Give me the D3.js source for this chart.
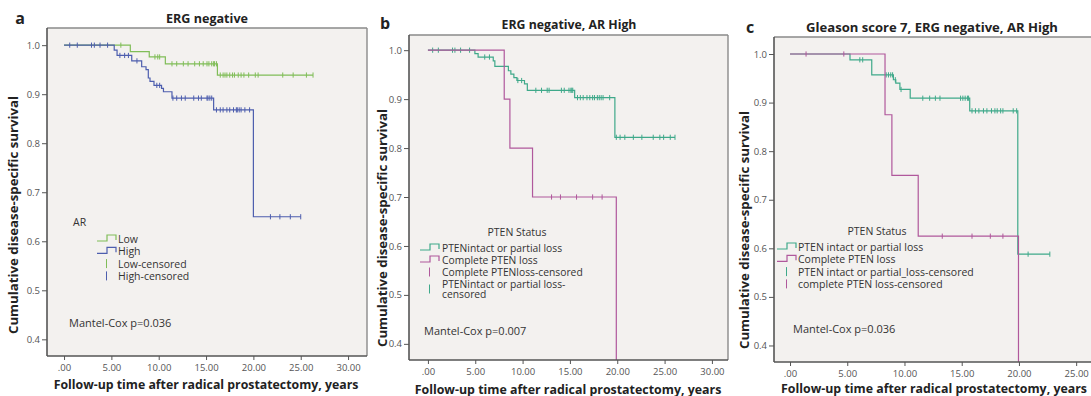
<!DOCTYPE html>
<html><head><meta charset="utf-8">
<script src="https://cdn.jsdelivr.net/npm/d3@7"></script>
<style>
body{margin:0;background:#fff;}
svg{display:block;}
text{font-family:"Open Sans","Noto Sans",sans-serif;}
</style>
</head><body>
<svg id="chart" width="1091" height="396"></svg>
<script>
// ---------- shared tick labels ----------
const xTicks = [0, 5, 10, 15, 20, 25, 30];
const xTickLabels = [".00", "5.00", "10.00", "15.00", "20.00", "25.00", "30.00"];
const yTicks = [0.4, 0.5, 0.6, 0.7, 0.8, 0.9, 1.0];
const yTickLabels = ["0.4", "0.5", "0.6", "0.7", "0.8", "0.9", "1.0"];

// ---------- panel a: ERG negative, by AR ----------
const aLowTimes = [0, 7.0, 9.0, 10.7, 16.2, 26.3];
const aLowSurv  = [1.0, 0.987, 0.976, 0.962, 0.939, 0.939];
const aLowCensored = [6.0, 9.6, 9.9, 10.1, 11.4, 11.9, 12.6, 13.1, 13.8, 14.3, 14.7, 15.1, 15.3, 15.6, 15.8, 15.9, 16.1,
  16.5, 16.8, 17.0, 17.2, 17.5, 17.8, 18.0, 18.4, 18.7, 19.0, 19.5, 20.2, 20.5, 23.1, 24.2, 25.6, 26.3];
const aHighTimes = [0, 5.3, 5.6, 7.15, 8.2, 8.66, 8.9, 9.08, 9.5, 10.3, 10.5, 11.4, 15.8, 20.0, 25.0];
const aHighSurv  = [1.0, 0.990, 0.979, 0.968, 0.956, 0.950, 0.933, 0.926, 0.918, 0.912, 0.905, 0.892, 0.868, 0.650, 0.650];
const aHighCensored = [0.6, 1.4, 2.9, 3.2, 3.8, 4.6, 5.9, 6.4, 6.8, 7.7, 9.8, 10.1, 11.5, 11.9, 12.4, 12.8, 13.7, 14.2,
  14.5, 15.1, 15.2, 15.4, 15.6, 16.1, 16.5, 16.8, 17.2, 17.5, 17.9, 18.2, 18.3, 18.5, 18.7, 19.1, 19.6, 21.8, 22.8, 23.9, 25.0];

// ---------- panel b: ERG negative, AR High, by PTEN ----------
const bIntactTimes = [0, 4.96, 5.3, 6.9, 7.07, 8.5, 8.76, 9.08, 9.4, 10.2, 10.5, 15.5, 19.75, 26.1];
const bIntactSurv  = [1.0, 0.993, 0.986, 0.978, 0.967, 0.958, 0.951, 0.944, 0.938, 0.931, 0.918, 0.903, 0.822, 0.822];
const bIntactCensored = [0.5, 1.1, 2.6, 2.85, 3.45, 4.4, 6.0, 6.5, 9.5, 9.9, 11.4, 12.0, 12.6, 12.8, 14.1, 14.4, 14.9, 15.1,
  15.2, 15.3, 15.8, 16.1, 16.4, 16.8, 17.1, 17.4, 17.6, 17.9, 18.1, 18.3, 18.5, 19.2, 19.9, 20.3, 20.8, 21.7, 22.6, 23.8,
  24.5, 24.9, 25.6, 26.1];
const bLossTimes = [0, 8.06, 8.66, 11.05, 19.9];
const bLossSurv  = [1.0, 0.9, 0.8, 0.7, 0.0];
const bLossCensored = [13.06, 14.0, 15.7, 17.4, 18.4];

// ---------- panel c: Gleason 7, ERG negative, AR High, by PTEN ----------
const cIntactTimes = [0, 5.24, 7.14, 9.03, 9.24, 9.6, 10.5, 15.7, 19.9, 22.7];
const cIntactSurv  = [1.0, 0.988, 0.957, 0.947, 0.940, 0.927, 0.909, 0.883, 0.588, 0.588];
const cIntactCensored = [6.1, 6.35, 8.4, 8.6, 8.8, 8.96, 9.2, 9.7, 11.6, 12.2, 12.7, 13.1, 14.9, 15.1, 15.3, 15.5, 15.6,
  15.9, 16.2, 16.5, 16.9, 17.2, 17.6, 17.9, 18.1, 18.4, 18.6, 19.5, 19.8, 20.8, 22.7];
const cLossTimes = [0, 8.3, 8.9, 11.2, 19.96];
const cLossSurv  = [1.0, 0.875, 0.75, 0.625, 0.0];
const cLossCensored = [1.4, 4.7, 13.3, 15.9, 17.5, 18.6];

// ---------- text ----------
const panelLetters = ["a", "b", "c"];
const panelTitles = ["ERG negative", "ERG negative, AR High", "Gleason score 7, ERG negative, AR High"];
const legendTitles = ["AR", "PTEN Status", "PTEN Status"];
const pValues = ["Mantel-Cox p=0.036", "Mantel-Cox p=0.007", "Mantel-Cox p=0.036"];
const xAxisTitle = "Follow-up time after radical prostatectomy, years";
const yAxisTitle = "Cumulative disease-specific survival";

// ---------- colours ----------
const cGreen = "#80bd58", cBlue = "#4d5eae", cTeal = "#3fa98a", cMagenta = "#b0589c";

const W = 1091;

const panels = [
  {
    frame: {x0: 47, x1: 367, y0: 28, y1: 356}, xDom: [-1.8, 32], yDom: [0.366, 1.035],
    letterPos: [20, 18], titleX: 207, titleY: 18, titleW: 82,
    yLabelX: 13, yLabelY: 215, xLabelY: 384, xLabelX: 206, xLabelW: 305,
    series: [
      {t: aLowTimes, s: aLowSurv, c: aLowCensored, color: cGreen},
      {t: aHighTimes, s: aHighSurv, c: aHighCensored, color: cBlue}
    ],
    legend: {titleX: 73, titleY: 222, symX: 97, textX: 118, lineH: 12.3, startY: 239, fs: 10.5,
      items: [
        {label: "Low", kind: "line", color: cGreen},
        {label: "High", kind: "line", color: cBlue},
        {label: "Low-censored", kind: "cens", color: cGreen},
        {label: "High-censored", kind: "cens", color: cBlue}
      ], titleAnchor: "start"},
    pX: 69, pY: 322
  },
  {
    frame: {x0: 409, x1: 728, y0: 35, y1: 360}, xDom: [-2.0, 31.7], yDom: [0.367, 1.031],
    letterPos: [385, 23], titleX: 569, titleY: 24, titleW: 135,
    yLabelX: 382, yLabelY: 228, xLabelY: 389, xLabelX: 568, xLabelW: 307,
    series: [
      {t: bIntactTimes, s: bIntactSurv, c: bIntactCensored, color: cTeal},
      {t: bLossTimes, s: bLossSurv, c: bLossCensored, color: cMagenta}
    ],
    legend: {titleX: 517, titleY: 232, symX: 420, textX: 442, lineH: 12, startY: 248, fs: 10.3,
      items: [
        {label: "PTENintact or partial loss", kind: "line", color: cTeal},
        {label: "Complete PTEN loss", kind: "line", color: cMagenta},
        {label: "Complete PTENloss-censored", kind: "cens", color: cMagenta},
        {label: ["PTENintact or partial loss-", "censored"], kind: "cens", color: cTeal, extra: 2}
      ], titleAnchor: "middle"},
    pX: 424, pY: 330
  },
  {
    frame: {x0: 774, x1: 1154, y0: 37, y1: 362}, xDom: [-1.4, 31.8], yDom: [0.366, 1.035],
    letterPos: [750, 27], titleX: 932, titleY: 27, titleW: 252,
    yLabelX: 744, yLabelY: 230, xLabelY: 388, xLabelX: 934, xLabelW: 306,
    series: [
      {t: cIntactTimes, s: cIntactSurv, c: cIntactCensored, color: cTeal},
      {t: cLossTimes, s: cLossSurv, c: cLossCensored, color: cMagenta}
    ],
    legend: {titleX: 877, titleY: 231, symX: 777, textX: 798, lineH: 12.3, startY: 247, fs: 10.5,
      items: [
        {label: "PTEN intact or partial loss", kind: "line", color: cTeal},
        {label: "Complete PTEN loss", kind: "line", color: cMagenta},
        {label: "PTEN intact or partial_loss-censored", kind: "cens", color: cTeal},
        {label: "complete PTEN loss-censored", kind: "cens", color: cMagenta}
      ], titleAnchor: "middle"},
    pX: 793, pY: 328
  }
];

const svg = d3.select("#chart");

function fitWidth(sel, w) {
  const fs = parseFloat(sel.attr("font-size"));
  const len = sel.node().getComputedTextLength();
  if (len > 0) sel.attr("font-size", (fs * w / len).toFixed(2));
}

function survAt(times, surv, t) {
  let v = surv[0];
  for (let i = 0; i < times.length; i++) { if (times[i] <= t) v = surv[i]; }
  return v;
}

panels.forEach((p, pi) => {
  const f = p.frame;
  const x = d3.scaleLinear().domain(p.xDom).range([f.x0, f.x1]);
  const y = d3.scaleLinear().domain(p.yDom).range([f.y1, f.y0]);
  const g = svg.append("g");

  // background
  g.append("rect").attr("x", f.x0).attr("y", f.y0).attr("width", f.x1 - f.x0).attr("height", f.y1 - f.y0)
    .attr("fill", "#f3f1ef");

  const clipId = "clip" + pi;
  svg.append("clipPath").attr("id", clipId).append("rect")
    .attr("x", f.x0).attr("y", f.y0).attr("width", f.x1 - f.x0).attr("height", f.y1 - f.y0);

  const plot = g.append("g").attr("clip-path", `url(#${clipId})`);
  const line = d3.line().x(d => x(d[0])).y(d => y(d[1])).curve(d3.curveStepAfter);

  p.series.forEach(se => {
    const pts = se.t.map((t, i) => [t, se.s[i]]);
    plot.append("path").attr("d", line(pts)).attr("fill", "none")
      .attr("stroke", se.color).attr("stroke-width", 1.2);
    plot.selectAll(null).data(se.c).enter().append("line")
      .attr("x1", d => x(d)).attr("x2", d => x(d))
      .attr("y1", d => y(survAt(se.t, se.s, d)) - 2.6)
      .attr("y2", d => y(survAt(se.t, se.s, d)) + 2.6)
      .attr("stroke", se.color).attr("stroke-width", 1);
  });

  // frame
  g.append("line").attr("x1", f.x0).attr("x2", f.x1).attr("y1", f.y0).attr("y2", f.y0)
    .attr("stroke", "#8a8a8a").attr("stroke-width", 1.4);
  g.append("line").attr("x1", f.x1).attr("x2", f.x1).attr("y1", f.y0).attr("y2", f.y1)
    .attr("stroke", "#8a8a8a").attr("stroke-width", 1.4);

  // axes
  const yAxis = d3.axisLeft(y).tickValues(yTicks).tickFormat((d, i) => yTickLabels[i]).tickSize(5).tickPadding(2);
  const ya = g.append("g").attr("transform", `translate(${f.x0},0)`).call(yAxis);
  ya.select(".domain").remove();
  ya.append("line").attr("x1", 0).attr("x2", 0).attr("y1", f.y0).attr("y2", f.y1)
    .attr("stroke", "#555").attr("stroke-width", 1.6);
  ya.selectAll(".tick line").attr("stroke", "#555");
  ya.selectAll(".tick text").attr("fill", "#555").attr("font-size", 9.5)
    .attr("font-family", "'Open Sans', sans-serif");

  // only ticks that fall inside the visible page
  const visIdx = xTicks.map((d, i) => i).filter(i => x(xTicks[i]) + 14 <= W);
  const xAxis = d3.axisBottom(x).tickValues(visIdx.map(i => xTicks[i]))
    .tickFormat(d => xTickLabels[xTicks.indexOf(d)]).tickSize(4).tickPadding(4);
  const xa = g.append("g").attr("transform", `translate(0,${f.y1})`).call(xAxis);
  xa.select(".domain").remove();
  xa.append("line").attr("x1", f.x0).attr("x2", f.x1).attr("y1", 0).attr("y2", 0)
    .attr("stroke", "#555").attr("stroke-width", 1.6);
  xa.selectAll(".tick line").attr("stroke", "#555");
  xa.selectAll(".tick text").attr("fill", "#555").attr("font-size", 9.5)
    .attr("font-family", "'Open Sans', sans-serif");

  // panel letter and title
  svg.append("text").attr("x", p.letterPos[0]).attr("y", p.letterPos[1]).attr("text-anchor", "middle")
    .attr("dominant-baseline", "central").attr("font-size", 16).attr("font-weight", "bold").attr("fill", "#222")
    .text(panelLetters[pi]);
  const tt = svg.append("text").attr("x", p.titleX).attr("y", p.titleY).attr("text-anchor", "middle")
    .attr("dominant-baseline", "central").attr("font-size", 12).attr("font-weight", "bold").attr("fill", "#222")
    .text(panelTitles[pi]);
  fitWidth(tt, p.titleW);

  // axis titles
  const xt = svg.append("text").attr("x", p.xLabelX).attr("y", p.xLabelY).attr("text-anchor", "middle")
    .attr("dominant-baseline", "central").attr("font-size", 12).attr("font-weight", "bold").attr("fill", "#222")
    .text(xAxisTitle);
  fitWidth(xt, p.xLabelW);
  const yt = svg.append("text").attr("transform", `translate(${p.yLabelX},${p.yLabelY}) rotate(-90)`)
    .attr("text-anchor", "middle").attr("dominant-baseline", "central").attr("font-size", 12)
    .attr("font-weight", "bold").attr("fill", "#222").text(yAxisTitle);
  fitWidth(yt, 238);

  // legend
  const L = p.legend;
  svg.append("text").attr("x", L.titleX).attr("y", L.titleY).attr("text-anchor", L.titleAnchor)
    .attr("dominant-baseline", "central").attr("font-size", 10.5).attr("fill", "#333").text(legendTitles[pi]);
  let yy = L.startY;
  L.items.forEach(it => {
    if (it.kind === "line") {
      svg.append("path")
        .attr("d", `M${L.symX},${yy + 2}H${L.symX + 10}V${yy - 4}H${L.symX + 19}V${yy + 1}`)
        .attr("fill", "none").attr("stroke", it.color).attr("stroke-width", 1.2);
    } else {
      svg.append("line").attr("x1", L.symX + 9.5).attr("x2", L.symX + 9.5)
        .attr("y1", yy - 4.5 + (it.extra ? 5 : 0)).attr("y2", yy + 4.5 + (it.extra ? 5 : 0))
        .attr("stroke", it.color).attr("stroke-width", 1);
    }
    const labels = Array.isArray(it.label) ? it.label : [it.label];
    labels.forEach((lb, k) => {
      svg.append("text").attr("x", L.textX).attr("y", yy + k * 9.8).attr("dominant-baseline", "central")
        .attr("font-size", L.fs).attr("fill", "#333").text(lb);
    });
    yy += L.lineH;
  });

  svg.append("text").attr("x", p.pX).attr("y", p.pY).attr("dominant-baseline", "central")
    .attr("font-size", 11).attr("fill", "#333").text(pValues[pi]);
});
</script>
</body></html>
